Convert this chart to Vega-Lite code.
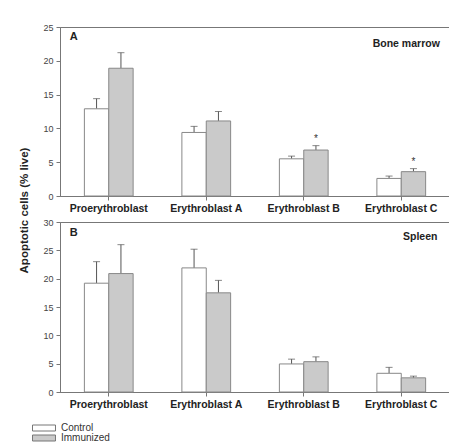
{
  "$schema": "https://vega.github.io/schema/vega-lite/v6.json",
  "background": "white",
  "padding": {"left": 17, "top": 22, "right": 0, "bottom": 0},
  "config": {
    "font": "Liberation Sans",
    "view": {"stroke": "#777", "strokeWidth": 1},
    "axis": {"domainColor": "#777", "tickColor": "#777", "labelColor": "#444", "labelFont": "Liberation Sans", "titleFont": "Liberation Sans", "grid": false, "tickSize": 4, "labelOverlap": false}
  },
  "spacing": 26,
  "bounds": "flush",
  "resolve": {"legend": {"color": "independent"}},
  "vconcat": [
    {
      "width": 390,
      "height": 169,
      "data": {"values": [
        {"cell": "Proerythroblast", "group": "Control", "value": 12.9, "upper": 14.4},
        {"cell": "Proerythroblast", "group": "Immunized", "value": 18.9, "upper": 21.2},
        {"cell": "Erythroblast A", "group": "Control", "value": 9.4, "upper": 10.3},
        {"cell": "Erythroblast A", "group": "Immunized", "value": 11.1, "upper": 12.5},
        {"cell": "Erythroblast B", "group": "Control", "value": 5.5, "upper": 5.9},
        {"cell": "Erythroblast B", "group": "Immunized", "value": 6.8, "upper": 7.45},
        {"cell": "Erythroblast C", "group": "Control", "value": 2.6, "upper": 2.95},
        {"cell": "Erythroblast C", "group": "Immunized", "value": 3.6, "upper": 4.05}
      ]},
      "encoding": {
        "x": {"field": "cell", "type": "nominal", "sort": ["Proerythroblast", "Erythroblast A", "Erythroblast B", "Erythroblast C"],
              "scale": {"paddingInner": 0.5, "paddingOuter": 0.25},
              "axis": {"title": null, "labelAngle": 0, "labelFontWeight": "bold", "labelFontSize": 10.5, "labelColor": "#222", "labelPadding": 3}}
      },
      "layer": [
        {"mark": {"type": "rule", "color": "#555", "strokeWidth": 1},
         "encoding": {"xOffset": {"field": "group", "sort": ["Control", "Immunized"]},
                      "y": {"field": "value", "type": "quantitative", "scale": {"domain": [0, 25], "nice": false},
                            "axis": {"values": [0, 5, 10, 15, 20, 25], "tickCount": 6, "labelFontSize": 9, "labelPadding": 3,
                                     "title": "Apoptotic cells (% live)", "titleFontSize": 11.5, "titleFontWeight": "bold", "titleColor": "#222", "titleX": -31, "titleY": 183}},
                      "y2": {"field": "upper"}}},
        {"mark": {"type": "tick", "color": "#555", "size": 7, "thickness": 1, "orient": "horizontal"},
         "encoding": {"xOffset": {"field": "group", "sort": ["Control", "Immunized"]},
                      "y": {"field": "upper", "type": "quantitative"}}},
        {"mark": {"type": "bar", "stroke": "#888", "strokeWidth": 1},
         "encoding": {"xOffset": {"field": "group", "sort": ["Control", "Immunized"]},
                      "y": {"field": "value", "type": "quantitative"},
                      "color": {"field": "group", "type": "nominal", "scale": {"domain": ["Control", "Immunized"], "range": ["#ffffff", "#cacaca"]}, "legend": null}}},
        {"data": {"values": [
          {"cell": "Erythroblast B", "group": "Immunized", "y": 8.4, "t": "*"},
          {"cell": "Erythroblast C", "group": "Immunized", "y": 5.0, "t": "*"}
         ]},
         "mark": {"type": "text", "fontSize": 10, "color": "#333", "baseline": "middle"},
         "encoding": {"xOffset": {"field": "group", "sort": ["Control", "Immunized"]},
                      "y": {"field": "y", "type": "quantitative"}, "text": {"field": "t"}}},
        {"data": {"values": [
          {"cell": "Proerythroblast", "y": 23.5, "t": "A"},
          {"cell": "Erythroblast C", "y": 22.5, "t": "Bone marrow"}
         ]},
         "layer": [
           {"transform": [{"filter": "datum.t == 'A'"}],
            "mark": {"type": "text", "fontSize": 11, "fontWeight": "bold", "color": "#222", "dx": -35, "baseline": "middle"},
            "encoding": {"y": {"field": "y", "type": "quantitative"}, "text": {"field": "t"}}},
           {"transform": [{"filter": "datum.t != 'A'"}],
            "mark": {"type": "text", "fontSize": 10.5, "fontWeight": "bold", "color": "#222", "dx": 5, "baseline": "middle"},
            "encoding": {"y": {"field": "y", "type": "quantitative"}, "text": {"field": "t"}}}
         ]}
      ]
    },
    {
      "width": 390,
      "height": 170,
      "data": {"values": [
        {"cell": "Proerythroblast", "group": "Control", "value": 19.2, "upper": 23.0},
        {"cell": "Proerythroblast", "group": "Immunized", "value": 20.9, "upper": 26.0},
        {"cell": "Erythroblast A", "group": "Control", "value": 21.9, "upper": 25.2},
        {"cell": "Erythroblast A", "group": "Immunized", "value": 17.5, "upper": 19.7},
        {"cell": "Erythroblast B", "group": "Control", "value": 4.95, "upper": 5.8},
        {"cell": "Erythroblast B", "group": "Immunized", "value": 5.35, "upper": 6.2},
        {"cell": "Erythroblast C", "group": "Control", "value": 3.3, "upper": 4.35},
        {"cell": "Erythroblast C", "group": "Immunized", "value": 2.5, "upper": 2.8}
      ]},
      "encoding": {
        "x": {"field": "cell", "type": "nominal", "sort": ["Proerythroblast", "Erythroblast A", "Erythroblast B", "Erythroblast C"],
              "scale": {"paddingInner": 0.5, "paddingOuter": 0.25},
              "axis": {"title": null, "labelAngle": 0, "labelFontWeight": "bold", "labelFontSize": 10.5, "labelColor": "#222", "labelPadding": 3}}
      },
      "layer": [
        {"mark": {"type": "rule", "color": "#555", "strokeWidth": 1},
         "encoding": {"xOffset": {"field": "group", "sort": ["Control", "Immunized"]},
                      "y": {"field": "value", "type": "quantitative", "scale": {"domain": [0, 30], "nice": false},
                            "axis": {"values": [0, 5, 10, 15, 20, 25, 30], "tickCount": 7, "labelFontSize": 9, "labelPadding": 3, "title": null}},
                      "y2": {"field": "upper"}}},
        {"mark": {"type": "tick", "color": "#555", "size": 7, "thickness": 1, "orient": "horizontal"},
         "encoding": {"xOffset": {"field": "group", "sort": ["Control", "Immunized"]},
                      "y": {"field": "upper", "type": "quantitative"}}},
        {"mark": {"type": "bar", "stroke": "#888", "strokeWidth": 1},
         "encoding": {"xOffset": {"field": "group", "sort": ["Control", "Immunized"]},
                      "y": {"field": "value", "type": "quantitative"},
                      "color": {"field": "group", "type": "nominal", "scale": {"domain": ["Control", "Immunized"], "range": ["#ffffff", "#cacaca"]},
                                "legend": {"title": null, "orient": "none", "legendX": -21, "legendY": 201, "padding": 0,
                                           "symbolType": "M-3.83,-1H3.83V1H-3.83Z", "symbolSize": 36, "symbolStrokeColor": "#777", "symbolStrokeWidth": 1,
                                           "labelFontSize": 10, "labelColor": "#333", "labelOffset": 12, "rowPadding": 0}}}},
        {"data": {"values": [
          {"cell": "Proerythroblast", "y": 28.1, "t": "B"},
          {"cell": "Erythroblast C", "y": 27.4, "t": "Spleen"}
         ]},
         "layer": [
           {"transform": [{"filter": "datum.t == 'B'"}],
            "mark": {"type": "text", "fontSize": 11, "fontWeight": "bold", "color": "#222", "dx": -35, "baseline": "middle"},
            "encoding": {"y": {"field": "y", "type": "quantitative"}, "text": {"field": "t"}}},
           {"transform": [{"filter": "datum.t != 'B'"}],
            "mark": {"type": "text", "fontSize": 10.5, "fontWeight": "bold", "color": "#222", "dx": 19, "baseline": "middle"},
            "encoding": {"y": {"field": "y", "type": "quantitative"}, "text": {"field": "t"}}}
         ]}
      ]
    }
  ]
}
